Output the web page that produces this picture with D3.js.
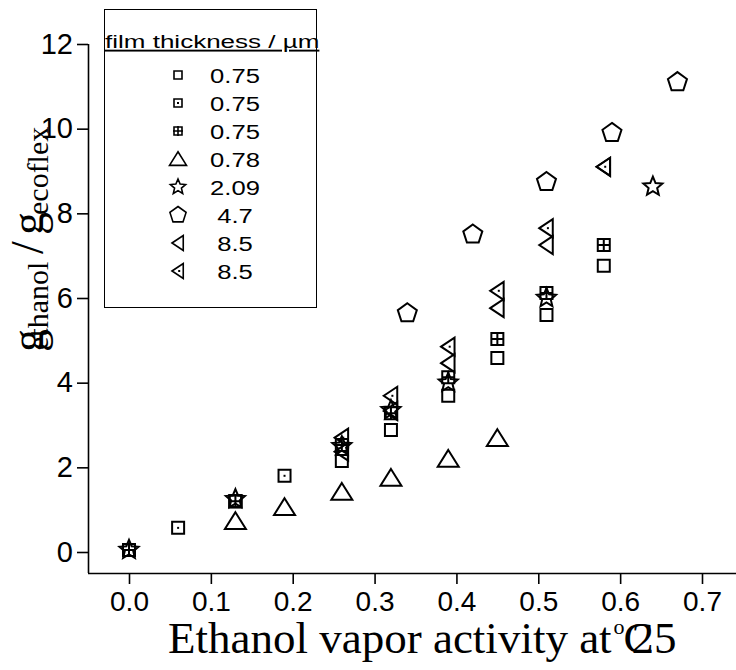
<!DOCTYPE html>
<html>
<head>
<meta charset="utf-8">
<script src="https://cdn.jsdelivr.net/npm/d3@7"></script>
<style>
  body { margin: 0; background: #fff; }
  svg { display: block; }
</style>
</head>
<body>
<svg id="chart" width="736" height="670"></svg>
<script>
// ethanol vapor activity (x) and g ethanol / g ecoflex (y)
const thickness = ["0.75", "0.75", "0.75", "0.78", "2.09", "4.7", "8.5", "8.5"];
const markers = ["square", "squareDot", "squareGrid", "triUp", "star", "pentagon", "triLeft", "triLeftDot"];

const sqActivity = [0, 0.13, 0.26, 0.32, 0.39, 0.45, 0.51, 0.58];
const sqUptake = [0.05, 1.2, 2.15, 2.88, 3.69, 4.58, 5.6, 6.76];

const sqDotActivity = [0, 0.06, 0.13, 0.19];
const sqDotUptake = [0.05, 0.57, 1.2, 1.8];

const sqGridActivity = [0, 0.13, 0.26, 0.32, 0.39, 0.45, 0.51, 0.58];
const sqGridUptake = [0.05, 1.2, 2.53, 3.28, 4.13, 5.03, 6.12, 7.25];

const triActivity = [0.13, 0.19, 0.26, 0.32, 0.39, 0.45];
const triUptake = [0.73, 1.06, 1.42, 1.75, 2.2, 2.69];

const starActivity = [0, 0.13, 0.26, 0.32, 0.39, 0.51, 0.64];
const starUptake = [0.05, 1.25, 2.5, 3.35, 4.0, 6.0, 8.63];

const pentActivity = [0.34, 0.42, 0.51, 0.59, 0.67];
const pentUptake = [5.64, 7.5, 8.74, 9.9, 11.1];

const leftActivity = [0.26, 0.32, 0.39, 0.45, 0.51, 0.58];
const leftUptake = [2.37, 3.33, 4.46, 5.76, 7.25, 9.1];

const leftDotActivity = [0.26, 0.32, 0.39, 0.45, 0.51, 0.58];
const leftDotUptake = [2.7, 3.69, 4.85, 6.17, 7.65, 9.1];

const xTicks = [0, 0.1, 0.2, 0.3, 0.4, 0.5, 0.6, 0.7];
const yTicks = [0, 2, 4, 6, 8, 10, 12];

const seriesX = [sqActivity, sqDotActivity, sqGridActivity, triActivity, starActivity, pentActivity, leftActivity, leftDotActivity];
const seriesY = [sqUptake, sqDotUptake, sqGridUptake, triUptake, starUptake, pentUptake, leftUptake, leftDotUptake];

const series = thickness.map((t, i) => ({
  label: t,
  marker: markers[i],
  points: seriesX[i].map((a, j) => ({ a: a, v: seriesY[i][j] }))
}));

const svg = d3.select("#chart");
const sans = "'Liberation Sans', Arial, sans-serif";
const serif = "'Liberation Serif', 'Times New Roman', serif";

const x = d3.scaleLinear().domain([0, 0.7]).range([129, 702]);
const y = d3.scaleLinear().domain([0, 12]).range([552, 44]);

// x axis: line runs past the last tick to the edge
const xAxis = svg.append("g")
    .attr("transform", "translate(0,573)")
    .call(d3.axisBottom(x).tickValues(xTicks).tickFormat(d3.format(".1f")).tickSizeInner(11).tickSizeOuter(0).tickPadding(7));
xAxis.select(".domain").attr("d", "M88,0.5H740");
xAxis.selectAll("line").attr("stroke-width", 1.6);
xAxis.select(".domain").attr("stroke-width", 1.6);
xAxis.selectAll("text").attr("font-family", sans).attr("font-size", 28).attr("fill", "#000");

const yAxis = svg.append("g")
    .attr("transform", "translate(88,0)")
    .call(d3.axisLeft(y).tickValues(yTicks).tickFormat(d3.format("d")).tickSizeInner(11).tickSizeOuter(0).tickPadding(4));
yAxis.select(".domain").attr("d", "M0.5,44V573");
yAxis.selectAll("line").attr("stroke-width", 1.6);
yAxis.select(".domain").attr("stroke-width", 1.6);
yAxis.selectAll("text").attr("font-family", sans).attr("font-size", 29).attr("fill", "#000");

// marker shapes, s = nominal size in px
function markerPath(kind, s) {
  const p = d3.path();
  const h = s / 2;
  if (kind === "square" || kind === "squareDot") {
    p.rect(-h, -h, s, s);
  } else if (kind === "squareGrid") {
    p.rect(-h, -h, s, s);
    p.moveTo(0, -h - 1); p.lineTo(0, h + 1);
    p.moveTo(-h - 1, 0); p.lineTo(h + 1, 0);
  } else if (kind === "triUp") {
    p.moveTo(0, -h * 0.85); p.lineTo(h, h * 0.75); p.lineTo(-h, h * 0.75); p.closePath();
  } else if (kind === "triLeft" || kind === "triLeftDot") {
    p.moveTo(-h * 0.8, 0); p.lineTo(h * 0.7, -h); p.lineTo(h * 0.7, h); p.closePath();
  } else if (kind === "star") {
    for (let k = 0; k < 10; k++) {
      const r = k % 2 === 0 ? h : h * 0.45;
      const ang = -Math.PI / 2 + k * Math.PI / 5;
      if (k === 0) p.moveTo(r * Math.cos(ang), r * Math.sin(ang));
      else p.lineTo(r * Math.cos(ang), r * Math.sin(ang));
    }
    p.closePath();
  } else if (kind === "pentagon") {
    for (let k = 0; k < 5; k++) {
      const ang = -Math.PI / 2 + k * 2 * Math.PI / 5;
      if (k === 0) p.moveTo(h * Math.cos(ang), h * Math.sin(ang));
      else p.lineTo(h * Math.cos(ang), h * Math.sin(ang));
    }
    p.closePath();
  }
  return p.toString();
}

const plotSize = { square: 12, squareDot: 12, squareGrid: 12, triUp: 21, star: 20, pentagon: 20, triLeft: 18, triLeftDot: 18 };
const legendSize = { square: 8, squareDot: 8, squareGrid: 8, triUp: 17, star: 16, pentagon: 17, triLeft: 15, triLeftDot: 15 };

function drawMarker(g, kind, s, sw) {
  g.append("path")
    .attr("d", markerPath(kind, s))
    .attr("fill", "none")
    .attr("stroke", "#000")
    .attr("stroke-width", sw)
    .attr("stroke-linejoin", "miter");
  if (kind === "squareDot" || kind === "triLeftDot") {
    const cx = kind === "triLeftDot" ? s * 0.08 : 0;
    g.append("rect")
      .attr("x", cx - 1).attr("y", -1).attr("width", 2).attr("height", 2)
      .attr("fill", "#000");
  }
}

// data points
const plot = svg.append("g").attr("class", "points");
series.forEach(sr => {
  plot.selectAll(null)
    .data(sr.points)
    .enter()
    .append("g")
    .attr("transform", d => `translate(${x(d.a)},${y(d.v)})`)
    .each(function() { drawMarker(d3.select(this), sr.marker, plotSize[sr.marker], 2); });
});

// legend box
const legend = svg.append("g").attr("class", "legend");
legend.append("rect")
  .attr("x", 104.5).attr("y", 9.5).attr("width", 212).attr("height", 298)
  .attr("fill", "none").attr("stroke", "#000").attr("stroke-width", 1);

legend.append("text")
  .attr("transform", "translate(105,48) scale(1.37,1)")
  .attr("font-family", sans).attr("font-size", 19)
  .attr("text-decoration", "underline")
  .text("film thickness / µm");

const rows = legend.selectAll(".legend-item")
  .data(series)
  .enter()
  .append("g")
  .attr("class", "legend-item")
  .attr("transform", (d, i) => `translate(0,${75 + i * 28})`);

rows.append("g")
  .attr("transform", "translate(178,0)")
  .each(function(d) { drawMarker(d3.select(this), d.marker, legendSize[d.marker], 1.6); });

rows.append("text")
  .attr("transform", "translate(235,8) scale(1.22,1)")
  .attr("text-anchor", "middle")
  .attr("font-family", sans).attr("font-size", 21)
  .text(d => d.label);

// x axis title, with the degree sign and 25 piled on top of each other like the source
const xTitle = svg.append("g").attr("font-family", serif).attr("fill", "#000");
const xMain = xTitle.append("text")
  .attr("x", 168).attr("y", 653)
  .attr("font-size", 45)
  .text("Ethanol vapor activity at");
const xEnd = 168 + xMain.node().getComputedTextLength();
xTitle.append("text").attr("x", xEnd + 2).attr("y", 634).attr("font-size", 22).text("o");
xTitle.append("text").attr("x", xEnd + 12).attr("y", 653).attr("font-size", 45).text("C");
xTitle.append("text").attr("x", xEnd + 20).attr("y", 653).attr("font-size", 45).text("25");

// y axis title, subscripts collapsed onto the g's like the source
const yTitle = svg.append("g")
  .attr("transform", "translate(43,352) rotate(-90)")
  .attr("font-family", serif).attr("fill", "#000");
yTitle.append("text").attr("x", 0).attr("y", 0).attr("font-size", 46).text("g");
yTitle.append("text").attr("x", 2).attr("y", 5).attr("font-size", 30).text("ethanol");
yTitle.append("text").attr("x", 98).attr("y", 0).attr("font-size", 46).text("/");
yTitle.append("text").attr("x", 117).attr("y", 0).attr("font-size", 46).text("g");
yTitle.append("text").attr("x", 137).attr("y", 5).attr("font-size", 30).text("ecoflex");
</script>
</body>
</html>
